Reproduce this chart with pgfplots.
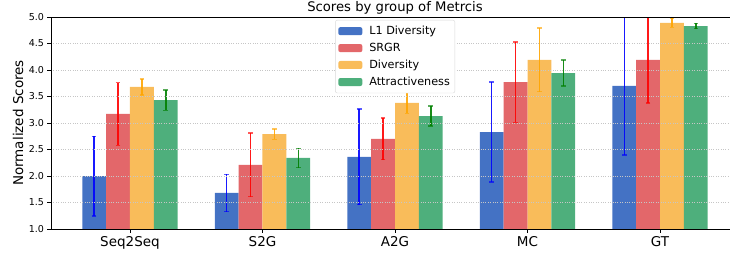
\documentclass[border=0pt]{standalone}
\usepackage{pgfplots}
\usepackage{pgfplotstable}
\pgfplotsset{compat=1.18}
\usepackage{fontspec}
\setmainfont{DejaVu Sans}
\definecolor{cb}{HTML}{4472C4}
\definecolor{cr}{HTML}{E3676A}
\definecolor{co}{HTML}{F9BC5A}
\definecolor{cg}{HTML}{4EAF7C}
\definecolor{eg}{HTML}{008000}
\definecolor{eo}{HTML}{FFA500}
\pgfplotstableread{
x y e
0 2.00 0.75
1 1.68 0.35
2 2.36 0.90
3 2.83 0.94
4 3.70 1.30
}\tblue
\pgfplotstableread{
x y e
0 3.17 0.59
1 2.21 0.60
2 2.70 0.39
3 3.77 0.76
4 4.19 0.81
}\tred
\pgfplotstableread{
x y e
0 3.68 0.15
1 2.79 0.10
2 3.38 0.20
3 4.19 0.60
4 4.89 0.085
}\torange
\pgfplotstableread{
x y e
0 3.43 0.19
1 2.34 0.18
2 3.13 0.19
3 3.94 0.245
4 4.83 0.05
}\tgreen
\pgfplotsset{
  errplot/.style={draw=none, mark=none, forget plot,
    error bars/.cd, y dir=both, y explicit, error mark=-,
    error bar style={color=#1, draw=#1, draw opacity=0.9, line width=1.5pt},
    error mark options={color=#1, draw=#1, draw opacity=0.65, line width=1.5pt, mark size=2.3pt, rotate=90}},
}
\begin{document}
\begin{tikzpicture}
\begin{axis}[at={(0,0)}, anchor=south west, scale only axis,
  width=688pt, height=212pt,
  xmin=-0.596, xmax=4.596, ymin=1, ymax=5,
  xtick={0,1,2,3,4}, xticklabels={Seq2Seq,S2G,A2G,MC,GT},
  ytick={1,1.5,2,2.5,3,3.5,4,4.5,5},
  yticklabel style={/pgf/number format/fixed, /pgf/number format/fixed zerofill, /pgf/number format/precision=1},
  /pgf/number format/assume math mode=true,
  yticklabel style={font=\fontsize{9.5}{11}\selectfont},
  xticklabel style={font=\fontsize{13.5}{16}\selectfont},
  tick align=outside, major tick length=3.5pt,
  tick style={black, line width=0.8pt},
  xtick pos=bottom, ytick pos=left,
  ymajorgrids, grid style={dotted, gray!45, line width=0.9pt},
  axis on top,
  axis line style={line width=0.9pt},
  ylabel={Normalized Scores},
  ylabel style={font=\fontsize{13.5}{16}\selectfont, at={(axis description cs:-0.048,0.5)}, anchor=center},
  title={Scores by group of Metrcis},
  every axis title shift=0pt,
  title style={font=\fontsize{13.2}{15}\selectfont, at={(axis description cs:0.5,1)}, anchor=base, yshift=5pt},
  legend image code/.code={\fill[#1] (0pt,-4pt) rectangle (24pt,4pt);},
  legend style={at={(rel axis cs:0.413,0.986)}, anchor=north west,
    font=\fontsize{11.2}{13}\selectfont, draw=gray!30, rounded corners=2pt,
    row sep=3pt, column sep=5pt, inner xsep=3pt, inner ysep=4pt},
  legend cell align=left,
]
\addplot[ybar, bar width=0.18, bar shift=-0.27, fill=cb, draw=none]
  table[x=x, y=y] {\tblue};
\addlegendentry{L1 Diversity}
\addplot[ybar, bar width=0.18, bar shift=-0.09, fill=cr, draw=none]
  table[x=x, y=y] {\tred};
\addlegendentry{SRGR}
\addplot[ybar, bar width=0.18, bar shift=0.09, fill=co, draw=none]
  table[x=x, y=y] {\torange};
\addlegendentry{Diversity}
\addplot[ybar, bar width=0.18, bar shift=0.27, fill=cg, draw=none]
  table[x=x, y=y] {\tgreen};
\addlegendentry{Attractiveness}
\addplot[errplot=blue] table[x expr=\thisrow{x}-0.27, y=y, y error=e] {\tblue};
\addplot[errplot=red] table[x expr=\thisrow{x}-0.09, y=y, y error=e] {\tred};
\addplot[errplot=eo] table[x expr=\thisrow{x}+0.09, y=y, y error=e] {\torange};
\addplot[errplot=eg] table[x expr=\thisrow{x}+0.27, y=y, y error=e] {\tgreen};
\end{axis}
\pgfresetboundingbox
\path[use as bounding box] (-51pt,-26pt) rectangle (679pt,229pt);
\end{tikzpicture}
\end{document}
